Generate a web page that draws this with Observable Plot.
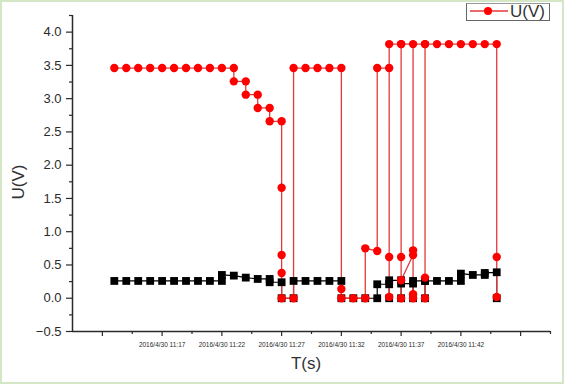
<!DOCTYPE html>
<html>
<head>
<meta charset="utf-8">
<script src="https://cdn.jsdelivr.net/npm/d3@7"></script>
<script src="https://cdn.jsdelivr.net/npm/@observablehq/plot@0.6"></script>
<style>
  html, body { margin: 0; padding: 0; background: #fff; }
  #wrap { position: relative; width: 564px; height: 384px; overflow: hidden; font-family: "Liberation Sans", Arial, sans-serif; }
  #border { position: absolute; left: 0; top: 0; width: 564px; height: 384px; box-sizing: border-box; border: 2px solid #d3e7c6; pointer-events: none; }
  .title { position: absolute; color: #333; font-size: 16px; white-space: nowrap; }
  #ylab { left: 19px; top: 182px; transform: translate(-50%, -50%) rotate(-90deg); font-size: 17px; }
  #xlab { left: 306px; top: 364px; transform: translate(-50%, -50%); font-size: 17px; }
  #legend { position: absolute; left: 466px; top: 3px; width: 82px; height: 16px; border: 1px solid #666; border-top-color: #999; background: #fff; }
  #legend svg { position: absolute; left: 0; top: 0; }
  #legend span { position: absolute; left: 43px; top: -2px; font-size: 17px; color: #333; }
</style>
</head>
<body>
<div id="wrap">
  <div id="chart"></div>
  <div class="title" id="ylab">U(V)</div>
  <div class="title" id="xlab">T(s)</div>
  <div id="legend">
    <svg width="42" height="16"><line x1="3" y1="7" x2="41" y2="7" stroke="#e23a3a" stroke-width="1.3"/><circle cx="21" cy="7" r="4" fill="#ff0000"/></svg>
    <span>U(V)</span>
  </div>
  <div id="border"></div>
</div>
<script>
// ---- data (minutes after 11:00 on 2016/4/30) ----
const redMinutes = [13,14,15,16,17,18,19,20,21,22,23,
  23,24,24,25,25,26,26,27,
  27,27,27,27,
  28,28,29,30,31,32,
  32,32,33,34,34,35,35,
  36,36,36,36,
  37,37,37,37,38,38,38,38,38,37,
  39,39,39,39,40,41,42,43,44,45,45,45];
const redU = [3.46,3.46,3.46,3.46,3.46,3.46,3.46,3.46,3.46,3.46,3.46,
  3.26,3.26,3.06,3.06,2.86,2.86,2.66,2.66,
  1.66,0.65,0.38,0.0,
  0.0,3.46,3.46,3.46,3.46,3.46,
  0.14,0.0,0.0,0.0,0.75,0.71,3.46,
  3.46,0.62,0.02,3.82,
  3.82,0.62,0.0,0.27,0.65,0.72,0.06,0.0,3.82,3.82,
  3.82,0.31,0.0,3.82,3.82,3.82,3.82,3.82,3.82,3.82,0.62,0.02];

const blackMinutes = [13,14,15,16,17,18,19,20,21,22,22,23,24,25,26,26,27,27,28,
  28,29,30,31,32,32,33,34,35,35,36,36,36,37,37,37,38,38,38,39,39,39,40,41,42,42,43,44,44,45,45];
const blackValues = [0.26,0.26,0.26,0.26,0.26,0.26,0.26,0.26,0.26,0.26,0.35,0.34,0.31,0.29,0.29,0.24,0.24,0.0,0.0,
  0.26,0.26,0.26,0.26,0.26,0.0,0.0,0.0,0.0,0.21,0.21,0.0,0.27,0.27,0.0,0.22,0.22,0.0,0.26,0.26,0.0,0.26,0.26,0.26,0.26,0.37,0.35,0.35,0.38,0.39,0.0];

const xMajorTicks = [12,17,22,27,32,37,42,47];
const xLabelledTicks = [17,22,27,32,37,42];
const xMinorTicks = [14.5,19.5,24.5,29.5,34.5,39.5,44.5,49.5];
const xDomainMinutes = [9.5, 49.5];
const yMajorTicks = [-0.5,0,0.5,1,1.5,2,2.5,3,3.5,4];
const yMinorTicks = [-0.25,0.25,0.75,1.25,1.75,2.25,2.75,3.25,3.75,4.25];
const yDomain = [-0.5, 4.25];

// ---- build ----
const toDate = m => new Date(2016, 3, 30, 11, Math.floor(m), Math.round((m % 1) * 60));
const red = redMinutes.map((m, i) => ({t: toDate(m), v: redU[i]}));
const black = blackMinutes.map((m, i) => ({t: toDate(m), v: blackValues[i]}));
const labelSet = new Set(xLabelledTicks.map(m => +toDate(m)));
const fmtX = d => labelSet.has(+d) ? `${d.getFullYear()}/${d.getMonth() + 1}/${d.getDate()} ${d.getHours()}:${String(d.getMinutes()).padStart(2, "0")}` : "";

const axisColor = "#2a2a2a";
const chart = Plot.plot({
  width: 564,
  height: 384,
  marginLeft: 72,
  marginRight: 14,
  marginTop: 15,
  marginBottom: 53,
  style: {fontFamily: "'Liberation Sans', Arial, sans-serif", color: axisColor, background: "transparent"},
  x: {type: "utc", domain: xDomainMinutes.map(toDate)},
  y: {domain: yDomain},
  marks: [
    Plot.axisY({ticks: yMajorTicks, tickSize: 6, tickPadding: 5, tickFormat: d3.format(".1f"), fontSize: 13, label: null, stroke: axisColor, strokeWidth: 1.2}),
    Plot.axisY({ticks: yMinorTicks, tickSize: 3, tickFormat: () => "", label: null, stroke: axisColor, strokeWidth: 1.2}),
    Plot.axisX({ticks: xMajorTicks.map(toDate), tickSize: 5, tickPadding: 6, tickFormat: fmtX, fontSize: 6.5, label: null, stroke: axisColor, strokeWidth: 1.2}),
    Plot.axisX({ticks: xMinorTicks.map(toDate), tickSize: 3, tickFormat: () => "", label: null, stroke: axisColor, strokeWidth: 1.2}),
    Plot.ruleX([toDate(xDomainMinutes[0])], {stroke: axisColor, strokeWidth: 1.5}),
    Plot.ruleY([yDomain[0]], {stroke: axisColor, strokeWidth: 1.5}),
    Plot.line(black, {x: "t", y: "v", stroke: "#000", strokeWidth: 1.2}),
    Plot.line(red, {x: "t", y: "v", stroke: "#e23a3a", strokeWidth: 1.3}),
    Plot.dot(black, {x: "t", y: "v", symbol: "square", r: 4.4, fill: "#000", stroke: null}),
    Plot.dot(red, {x: "t", y: "v", r: 4.2, fill: "#ff0000", stroke: null})
  ]
});
document.getElementById("chart").appendChild(chart);
</script>
</body>
</html>
